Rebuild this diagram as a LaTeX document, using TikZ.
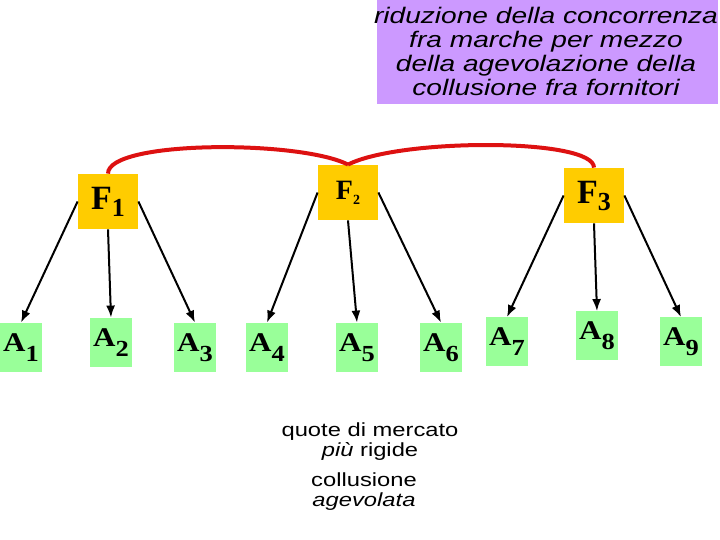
\documentclass[tikz,border=0pt]{standalone}
\usepackage{fontspec}
\setmainfont{Liberation Serif}
\setsansfont{Liberation Sans}[FakeStretch=1.25]
\newfontfamily\serifwide{Liberation Serif}[FakeStretch=1.15]
\usetikzlibrary{arrows.meta}
\definecolor{lilla}{RGB}{204,153,255}
\definecolor{giallo}{RGB}{255,204,0}
\definecolor{verde}{RGB}{153,255,153}
\definecolor{rosso}{RGB}{221,17,17}
% etichette con pedice
\newcommand{\flab}[2]{\bfseries #1\raisebox{-3.5pt}{\fontsize{13}{13}\selectfont #2}}
\newcommand{\alab}[2]{{\serifwide\bfseries #1\raisebox{-5pt}{\fontsize{11.5}{11.5}\selectfont #2}}}
\begin{document}
\begin{tikzpicture}[x=0.5pt,y=-0.5pt,
  forn/.style={fill=giallo,minimum width=30pt,minimum height=27.5pt,inner sep=0pt,font=\fontsize{17}{17}\selectfont},
  agen/.style={fill=verde,minimum width=21pt,minimum height=24.5pt,inner sep=0pt,font=\fontsize{13.5}{13.5}\selectfont},
  freccia/.style={-{Latex[length=6pt,width=4.5pt]},line width=1pt},
  legame/.style={rosso,line width=2pt},
  nota/.style={font=\sffamily\fontsize{9.5}{10}\selectfont,align=center,inner sep=0pt}]
  \useasboundingbox (0,0) rectangle (720,540);
  % riquadro del titolo
  \node[fill=lilla,minimum width=170.5pt,minimum height=52pt,inner sep=0pt] (riquadro) at (547.5,52) {};
  \node[font=\sffamily\itshape\fontsize{11.25}{12}\selectfont,align=center,inner sep=0pt] (titolo) at (546,51)
    {riduzione della concorrenza\\fra marche per mezzo\\della agevolazione della\\collusione fra fornitori};
  % fornitori
  \node[forn] (F1) at (108,201.5) {\flab{F}{1}};
  \node[forn] (F2) at (348,192.5) {\fontsize{14}{14}\selectfont\bfseries F\raisebox{-2.5pt}{\fontsize{7}{7}\selectfont 2}};
  \node[forn] (F3) at (594,195.5) {\flab{F}{3}};
  % agenti
  \foreach \i/\x/\y in {1/21/347.5,2/111/342.5,3/195/347.5,4/267/347.5,5/357/347.5,
                        6/441/347.5,7/507/342,8/597/336,9/681/342}
    \node[agen] (A\i) at (\x,\y) {\alab{A}{\i}};
  % frecce
  \draw[freccia] (F1.west) -- (A1.north);
  \draw[freccia] (F1.south) -- (A2.north);
  \draw[freccia] (F1.east) -- (A3.north);
  \draw[freccia] (F2.west) -- (A4.north);
  \draw[freccia] (F2.south) -- (A5.north);
  \draw[freccia] (F2.east) -- (A6.north);
  \draw[freccia] (F3.west) -- (A7.north);
  \draw[freccia] (F3.south) -- (A8.north);
  \draw[freccia] (F3.east) -- (A9.north);
  % collusione
  \draw[legame] (F1.north) .. controls (108,140) and (300,140) .. (F2.north);
  \draw[legame] (F2.north) .. controls (400,138) and (594,138) .. (F3.north);
  % note
  \node[nota] (quote) at (370,442) {quote di mercato\\\textit{più} rigide};
  \node[nota] (collusione) at (364,492) {collusione\\\textit{agevolata}};
\end{tikzpicture}
\end{document}
